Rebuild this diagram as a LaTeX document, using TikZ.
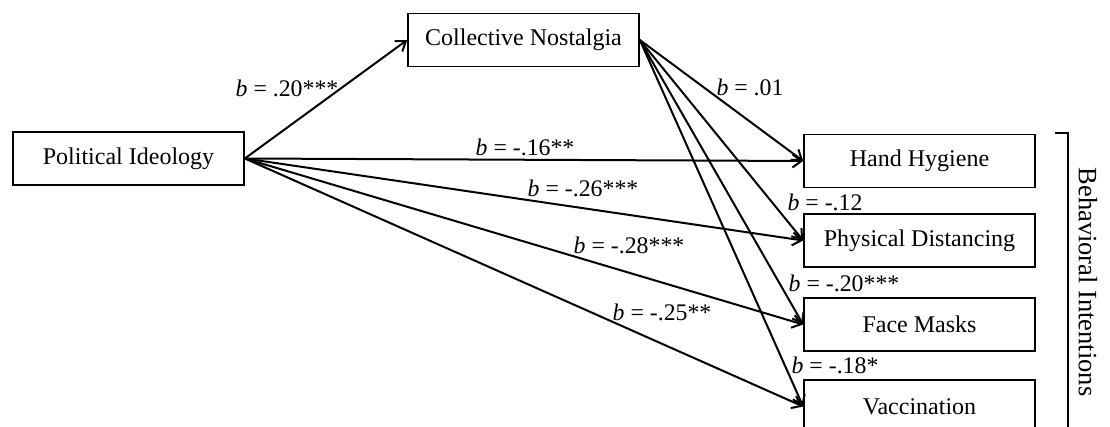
\documentclass[tikz,border=0pt]{standalone}
\usepackage{fontspec}
\setmainfont{Liberation Serif}
\usetikzlibrary{arrows.meta}
\begin{document}
\begin{tikzpicture}[x=1pt,y=-1pt,
  box/.style={draw,line width=1.7pt,rectangle,minimum width=231pt,minimum height=53pt,inner sep=0pt,font=\fontsize{24}{28}\selectfont},
  lbl/.style={inner sep=0pt,font=\fontsize{23.8}{28}\selectfont},
  arr/.style={line width=2pt,-{Straight Barb[length=9pt,width=13pt,line width=2pt]}}]
\useasboundingbox (0,0) rectangle (1110,427);
\node[box] (pi) at (128.5,158.5) {Political Ideology};
\node[box] (cn) at (523.5,40) {Collective Nostalgia};
\node[box] (hh) at (919.5,161) {Hand Hygiene};
\node[box] (pd) at (919.5,240.5) {Physical Distancing};
\node[box] (fm) at (919.5,324.5) {Face Masks};
\node[box] (va) at (919.5,406.5) {Vaccination};
\draw[arr] (pi.east) -- (cn.west);
\draw[arr] (pi.east) -- (hh.west);
\draw[arr] (pi.east) -- (pd.west);
\draw[arr] (pi.east) -- (fm.west);
\draw[arr] (pi.east) -- (va.west);
\draw[arr] (cn.east) -- (hh.west);
\draw[arr] (cn.east) -- (pd.west);
\draw[arr] (cn.east) -- (fm.west);
\draw[arr] (cn.east) -- (va.west);
\node[lbl] (l1) at (287,88) {\textit{b} = .20***};
\node[lbl] (l2) at (750,87) {\textit{b} = .01};
\node[lbl] (l3) at (525,147) {\textit{b} = -.16**};
\node[lbl] (l4) at (583,188) {\textit{b} = -.26***};
\node[lbl] (l5) at (825,202) {\textit{b} = -.12};
\node[lbl] (l6) at (629,245) {\textit{b} = -.28***};
\node[lbl] (l7) at (844,283) {\textit{b} = -.20***};
\node[lbl] (l8) at (662,312) {\textit{b} = -.25**};
\node[lbl] (l9) at (835,365) {\textit{b} = -.18*};
\coordinate (bt) at (1055,133);
\coordinate (bc) at (1068,133);
\coordinate (bb) at (1068,440);
\draw[line width=1.7pt] (bt) -- (bc) -- (bb);
\node[lbl,rotate=-90,font=\fontsize{26.5}{30}\selectfont] (bi) at (1088,282) {Behavioral Intentions};
\end{tikzpicture}
\end{document}
